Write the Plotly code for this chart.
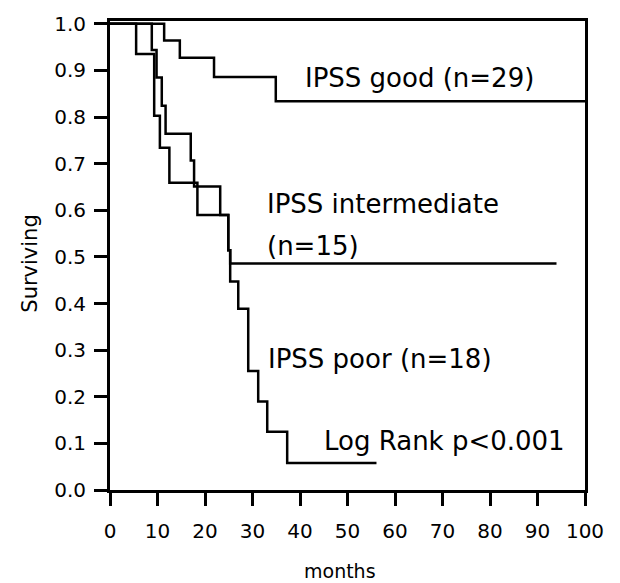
import plotly.graph_objects as go

# Kaplan-Meier step data (months, surviving fraction)
good_months = [0, 11.4, 14.7, 21.9, 34.9, 100]
good_surv = [1.0, 0.964, 0.927, 0.886, 0.834, 0.834]

inter_months = [0, 5.5, 9.3, 10.5, 12.5, 18.4, 24.9, 25.3, 94.0]
inter_surv = [1.0, 0.935, 0.803, 0.734, 0.659, 0.590, 0.514, 0.486, 0.486]

poor_months = [0, 8.8, 9.8, 10.9, 11.7, 17.0, 17.7, 23.2, 24.9, 25.3, 27.0, 29.1, 31.2, 33.1, 37.3, 56.1]
poor_surv = [1.0, 0.944, 0.885, 0.824, 0.764, 0.707, 0.651, 0.590, 0.514, 0.447, 0.389, 0.255, 0.190, 0.125, 0.058, 0.058]

x_ticks = [0, 10, 20, 30, 40, 50, 60, 70, 80, 90, 100]
y_ticks = [0.0, 0.1, 0.2, 0.3, 0.4, 0.5, 0.6, 0.7, 0.8, 0.9, 1.0]

FONT = "DejaVu Sans"

fig = go.Figure()
for xs, ys in [(good_months, good_surv), (inter_months, inter_surv), (poor_months, poor_surv)]:
    fig.add_trace(go.Scatter(x=xs, y=ys, mode="lines", line=dict(color="black", width=2.5, shape="hv"),
                             showlegend=False, hoverinfo="skip"))

ann_font = dict(family=FONT, size=26, color="black")
annotations = [
    dict(x=40.6, y=0.883, text="IPSS good (n=29)"),
    dict(x=32.6, y=0.613, text="IPSS intermediate"),
    dict(x=32.6, y=0.524, text="(n=15)"),
    dict(x=32.8, y=0.281, text="IPSS poor (n=18)"),
    dict(x=44.6, y=0.106, text="Log Rank p<0.001"),
]
for a in annotations:
    a.update(xref="x", yref="y", xanchor="left", yanchor="middle", showarrow=False, font=ann_font)

annotations.append(dict(xref="paper", yref="paper", x=0.484, y=-0.172, text="months", showarrow=False,
                        xanchor="center", yanchor="middle", font=dict(family=FONT, size=19, color="black")))
annotations.append(dict(xref="paper", yref="paper", x=-0.168, y=0.483, text="Surviving", showarrow=False,
                        textangle=-90, xanchor="center", yanchor="middle",
                        font=dict(family=FONT, size=21, color="black")))

fig.update_layout(
    width=620, height=583,
    margin=dict(l=110, r=35, t=14, b=93, pad=0),
    paper_bgcolor="white", plot_bgcolor="white",
    annotations=annotations,
    font=dict(family=FONT, color="black"),
)
fig.update_xaxes(range=[0, 100], tickvals=x_ticks, ticktext=[str(v) for v in x_ticks],
                 showgrid=False, zeroline=False, showline=True, linecolor="black", linewidth=3,
                 mirror=True, ticks="outside", ticklen=13, tickwidth=3, tickcolor="black",
                 tickfont=dict(family=FONT, size=20, color="black"), ticklabelstandoff=8)
fig.update_yaxes(range=[0, 1.006], tickvals=y_ticks, ticktext=[f"{v:.1f}" for v in y_ticks],
                 showgrid=False, zeroline=False, showline=True, linecolor="black", linewidth=3,
                 mirror=True, ticks="outside", ticklen=13, tickwidth=3, tickcolor="black",
                 tickfont=dict(family=FONT, size=20, color="black"), ticklabelstandoff=4)

fig.write_html("out.html")
